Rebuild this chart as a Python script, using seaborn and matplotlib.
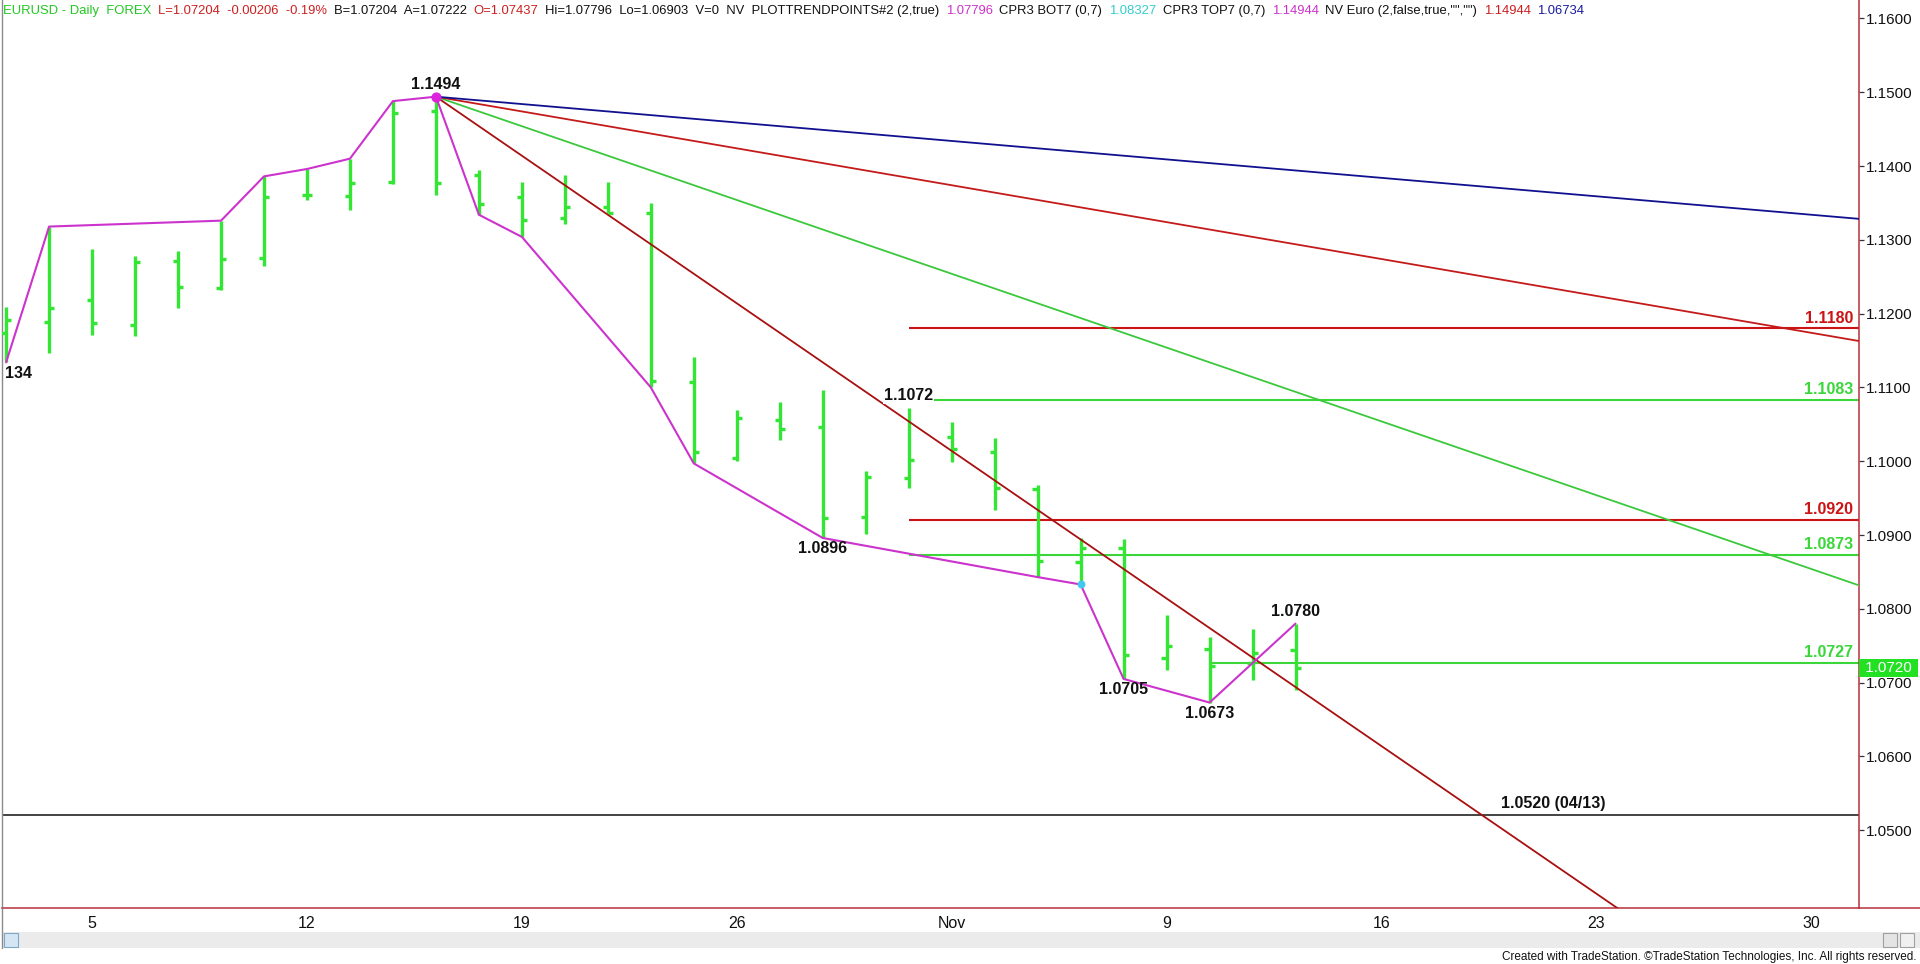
import numpy as np
import pandas as pd
import matplotlib
matplotlib.use("Agg")
import matplotlib.pyplot as plt
import matplotlib.transforms as mtransforms
from matplotlib.patches import Rectangle
from matplotlib.lines import Line2D
import seaborn as sns

# ---------------- data ----------------
bar_dates = list(pd.bdate_range("2015-10-01", "2015-11-12").strftime("%Y-%m-%d"))
opens  = [1.1174, 1.1189, 1.1218, 1.1185, 1.1271, 1.1235, 1.1275, 1.1361, 1.1359, 1.1379,
          1.1474, 1.1388, 1.1358, 1.1329, 1.1345, 1.1337, 1.1108, 1.1005, 1.1056, 1.1047,
          1.0925, 1.0977, 1.1033, 1.1012, 1.0962, 1.0864, 1.0882, 1.0733, 1.0746, 1.0726,
          1.0744]
highs  = [1.1209, 1.1318, 1.1288, 1.1278, 1.1285, 1.1326, 1.1386, 1.1396, 1.1410, 1.1488,
          1.1494, 1.1395, 1.1379, 1.1388, 1.1378, 1.1350, 1.1141, 1.1070, 1.1080, 1.1096,
          1.0987, 1.1072, 1.1053, 1.1032, 1.0968, 1.0896, 1.0894, 1.0791, 1.0762, 1.0772,
          1.0780]
lows   = [1.1134, 1.1146, 1.1171, 1.1170, 1.1208, 1.1232, 1.1264, 1.1354, 1.1341, 1.1376,
          1.1361, 1.1334, 1.1304, 1.1321, 1.1337, 1.1100, 1.0997, 1.1000, 1.1029, 1.0896,
          1.0902, 1.0964, 1.0999, 1.0934, 1.0843, 1.0833, 1.0705, 1.0717, 1.0673, 1.0703,
          1.0690]
closes = [1.1192, 1.1208, 1.1187, 1.1270, 1.1236, 1.1274, 1.1358, 1.1361, 1.1377, 1.1472,
          1.1377, 1.1349, 1.1327, 1.1345, 1.1337, 1.1109, 1.1013, 1.1059, 1.1044, 1.0923,
          1.0979, 1.1001, 1.1016, 1.0964, 1.0865, 1.0883, 1.0738, 1.0749, 1.0722, 1.0740,
          1.0720]

# swing (trend-point) line: bar index and which extreme
swing_idx  = [0, 1, 5, 6, 7, 8, 9, 10, 11, 12, 15, 16, 19, 24, 25, 26, 28, 30]
swing_kind = ["L", "H", "H", "H", "H", "H", "H", "H", "L", "L", "L", "L", "L", "L", "L", "L", "L", "H"]

# Gann-style fan from the 1.1494 high (price change per bar)
fan_anchor_date = "2015-10-15"
fan_anchor_price = 1.1494
fan_slopes = [0.004, 0.002, 0.001, 0.0005]
fan_colors = ["#a81010", "#3cc83c", "#c41a1a", "#101090"]

# horizontal levels
level_values = [1.1180, 1.1083, 1.0920, 1.0873, 1.0727]
level_labels = ["1.1180", "1.1083", "1.0920", "1.0873", "1.0727"]
level_colors = ["#cc1414", "#3ad63a", "#cc1414", "#3ad63a", "#3ad63a"]
level_start  = ["2015-10-30", "2015-10-30", "2015-10-30", "2015-10-30", "2015-11-10"]
support_value = 1.0520
support_label = "1.0520 (04/13)"
support_label_date = "2015-11-23"

# annotated pivots
pivot_dates  = ["2015-10-15", "2015-10-30", "2015-10-28", "2015-11-06", "2015-11-10", "2015-11-12"]
pivot_prices = [1.1494, 1.1072, 1.0896, 1.0705, 1.0673, 1.0780]
pivot_texts  = ["1.1494", "1.1072", "1.0896", "1.0705", "1.0673", "1.0780"]
pivot_above  = [True, True, False, False, False, True]
# the first low's label is shown truncated at the left edge
edge_label_date, edge_label_price, edge_label_text = "2015-10-01", 1.1134, "134"

last_price = 1.0720
yticks = [1.05, 1.06, 1.07, 1.08, 1.09, 1.10, 1.11, 1.12, 1.13, 1.14, 1.15, 1.16]
xtick_dates  = ["2015-10-05", "2015-10-12", "2015-10-19", "2015-10-26", "2015-11-02",
                "2015-11-09", "2015-11-16", "2015-11-23", "2015-11-30"]
xtick_labels = ["5", "12", "19", "26", "Nov", "9", "16", "23", "30"]

header = [
    ("EURUSD - Daily  FOREX", "#22c822"),
    ("L=1.07204  -0.00206  -0.19%", "#cc2020"),
    ("B=1.07204  A=1.07222", "#111111"),
    ("O=1.07437", "#cc2020"),
    ("Hi=1.07796  Lo=1.06903  V=0  NV  PLOTTRENDPOINTS#2 (2,true)", "#111111"),
    ("1.07796", "#cc33cc"),
    ("CPR3 BOT7 (0,7)", "#111111"),
    ("1.08327", "#33cccc"),
    ("CPR3 TOP7 (0,7)", "#111111"),
    ("1.14944", "#cc33cc"),
    ('NV Euro (2,false,true,"","")', "#111111"),
    ("1.14944", "#cc2020"),
    ("1.06734", "#1a1aa0"),
]
footer = "Created with TradeStation. \u00a9TradeStation Technologies, Inc. All rights reserved."

# ---------------- positions (trading-day index) ----------------
all_days = pd.bdate_range("2015-10-01", "2015-12-31")
pos = {d.strftime("%Y-%m-%d"): i for i, d in enumerate(all_days)}
bx = np.array([pos[d] for d in bar_dates], dtype=float)

df = pd.DataFrame({"x": bx, "open": opens, "high": highs, "low": lows, "close": closes})

# ---------------- figure ----------------
sns.set_style("white")
plt.rcParams["font.family"] = ["Liberation Sans", "DejaVu Sans"]

W, H = 1920, 964
fig = plt.figure(figsize=(W / 100, H / 100), dpi=100)
fig.patch.set_facecolor("white")
ax_left, ax_right, ax_bottom, ax_top = 2, 1859, 908, 0
ax = fig.add_axes([ax_left / W, (H - ax_bottom) / H, (ax_right - ax_left) / W, (ax_bottom - ax_top) / H])
ax.set_facecolor("white")

ax.set_xlim(-0.096, 43.11)
ax.set_ylim(1.03946, 1.1625)

bar_green = "#33e633"
ax.vlines(df["x"], df["low"], df["high"], color=bar_green, lw=2.4, zorder=3)
ax.hlines(df["open"], df["x"] - 0.12, df["x"], color=bar_green, lw=2.4, zorder=3)
ax.hlines(df["close"], df["x"], df["x"] + 0.12, color=bar_green, lw=2.4, zorder=3)

# fan lines
ax0 = pos[fan_anchor_date]
fx = np.array([ax0, 44.0])
for s, c in zip(fan_slopes, fan_colors):
    ax.plot(fx, fan_anchor_price - s * (fx - ax0), color=c, lw=1.3, zorder=4)

# levels
for v, lab, c, sd in zip(level_values, level_labels, level_colors, level_start):
    ax.hlines(v, pos[sd], 43.11, color=c, lw=1.5, zorder=2)
    ax.annotate(lab, xy=(42.98, v), xytext=(0, 2), textcoords="offset points",
                ha="right", va="bottom", color=c, fontsize=11.5, fontweight="bold", zorder=6)
ax.axhline(support_value, color="#111111", lw=1.1, zorder=2)
ax.annotate(support_label, xy=(pos[support_label_date] - 1.0, support_value), xytext=(0, 3),
            textcoords="offset points", ha="center", va="bottom", color="#111111",
            fontsize=11.5, fontweight="bold", zorder=6)

# swing line with seaborn
sx = [bx[i] for i in swing_idx]
sy = [highs[i] if k == "H" else lows[i] for i, k in zip(swing_idx, swing_kind)]
swing_df = pd.DataFrame({"x": sx, "y": sy})
sns.lineplot(data=swing_df, x="x", y="y", ax=ax, color="#cc33cc", lw=1.5, sort=False,
             estimator=None, zorder=5)
ax.scatter([bx[10]], [highs[10]], s=40, color="#dd22dd", zorder=6)
ax.scatter([bx[25]], [lows[25]], s=22, color="#44c8ee", zorder=6)

# pivot labels
for d, p, t, above in zip(pivot_dates, pivot_prices, pivot_texts, pivot_above):
    kw = dict(ha="center", fontsize=11.5, fontweight="bold", color="#111111", zorder=7,
              textcoords="offset points", annotation_clip=False)
    if above:
        a = ax.annotate(t, xy=(pos[d], p), xytext=(0, 3.5), va="bottom", **kw)
    else:
        a = ax.annotate(t, xy=(pos[d], p), xytext=(0, -2.5), va="top", **kw)
    if t == "1.1072":
        a.set_bbox(dict(boxstyle="square,pad=0.05", fc="white", ec="none"))
ax.annotate(edge_label_text, xy=(pos[edge_label_date], edge_label_price), xytext=(-0.5, -2.5),
            textcoords="offset points", ha="left", va="top", fontsize=11.5, fontweight="bold",
            color="#111111", zorder=7)

# axes styling
ax.yaxis.tick_right()
ax.set_yticks(yticks)
ax.set_yticklabels([f"{v:.4f}" for v in yticks])
ax.set_xticks([pos[d] for d in xtick_dates])
ax.set_xticklabels(xtick_labels)
ax.tick_params(axis="y", direction="out", length=3.5, width=0.9, color="#333333",
               labelsize=11, pad=1.5, labelcolor="#111111")
ax.tick_params(axis="x", direction="inout", length=5, width=0.9, color="#555555",
               labelsize=11.5, pad=3, labelcolor="#111111")
ax.set_xlabel("")
ax.set_ylabel("")
ax.spines["top"].set_visible(False)
ax.spines["left"].set_color("#8a8a8a")
ax.spines["left"].set_linewidth(1.0)
for side in ["right", "bottom"]:
    ax.spines[side].set_color("#b8303c")
    ax.spines[side].set_linewidth(1.1)

# last price marker on right axis
trans = mtransforms.blended_transform_factory(ax.transAxes, ax.transData)
ax.text(1.0012, last_price, " 1.0720 ", transform=trans, ha="left", va="center", color="white",
        fontsize=11, bbox=dict(boxstyle="square,pad=0.12", fc="#22e022", ec="none"),
        clip_on=False, zorder=8)

# x-axis line continues to the right edge
fig.add_artist(Line2D([ax_right / W, 1.0], [(H - ax_bottom) / H] * 2, color="#b8303c", lw=1.1))
# left frame continues to scroll bar
fig.add_artist(Line2D([ax_left / W] * 2, [(H - 948) / H, (H - ax_bottom) / H], color="#8a8a8a", lw=1.0))

# scroll bar
fig.add_artist(Rectangle((3 / W, (H - 948) / H), (W - 3) / W, 16 / H, facecolor="#ebebeb",
                         edgecolor="none", transform=fig.transFigure))
fig.add_artist(Rectangle((4 / W, (H - 947) / H), 14 / W, 14 / H, facecolor="#d4e6f4",
                         edgecolor="#7fa7c8", lw=0.8, transform=fig.transFigure))
fig.add_artist(Rectangle((1883 / W, (H - 947) / H), 14 / W, 14 / H, facecolor="#e4e4e4",
                         edgecolor="#a0a0a0", lw=0.8, transform=fig.transFigure))
fig.add_artist(Rectangle((1900 / W, (H - 947) / H), 14 / W, 14 / H, facecolor="#f0f0f0",
                         edgecolor="#a0a0a0", lw=0.8, transform=fig.transFigure))

# footer
fig.text(1917 / W, (H - 957) / H, footer, ha="right", va="center", fontsize=8.5,
         family=["Liberation Sans Narrow", "Liberation Sans", "DejaVu Sans"], color="#111111")

# header (chained coloured pieces)
hfs = 9.35
prev = ax.annotate(header[0][0], xy=(3 / W, 1 - 11 / H), xycoords="figure fraction",
                   ha="left", va="center", color=header[0][1], fontsize=hfs, annotation_clip=False,
                   zorder=9)
for txt, col in header[1:]:
    prev = ax.annotate(txt, xy=(1, 0.5), xycoords=prev, xytext=(4.8, 0), textcoords="offset points",
                       ha="left", va="center", color=col, fontsize=hfs, annotation_clip=False,
                       zorder=9)

fig.savefig("out.png", dpi=100, facecolor="white")
